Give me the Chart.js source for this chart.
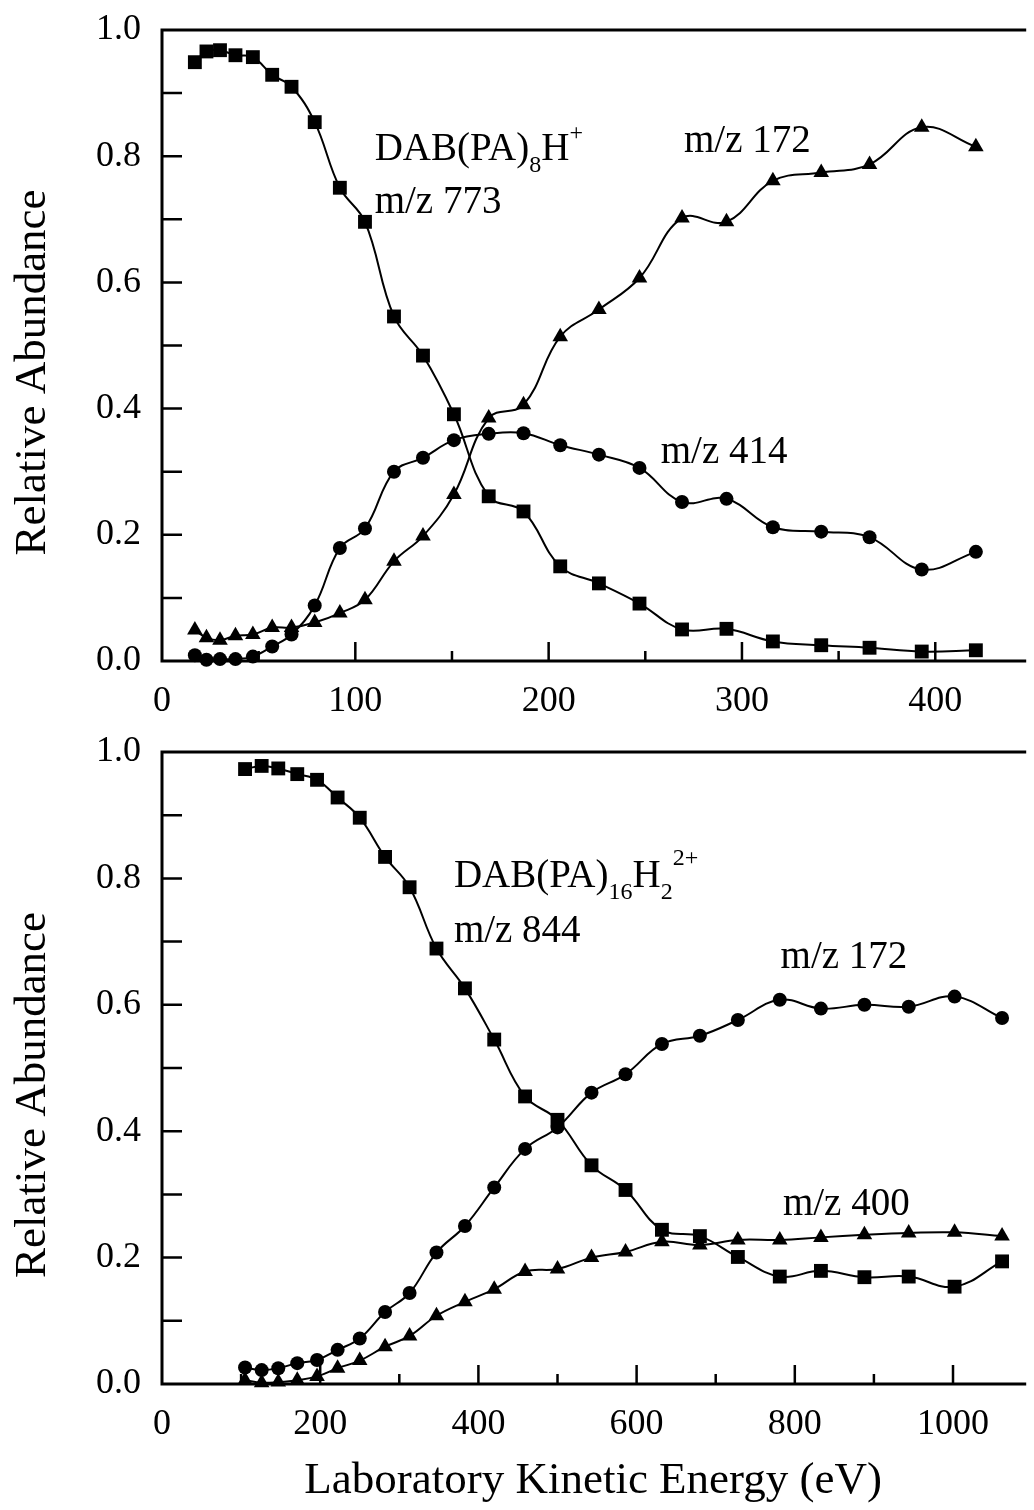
<!DOCTYPE html>
<html>
<head>
<meta charset="utf-8">
<script src="https://cdn.jsdelivr.net/npm/chart.js@4.4.1/dist/chart.umd.min.js"></script>
<style>
  html, body { margin: 0; padding: 0; background: #fff; overflow: hidden; }
  #wrap { position: relative; width: 1034px; height: 1510px; }
  canvas { position: absolute; left: 0; }
  #topChart { top: 0; }
  #bottomChart { top: 720px; }
</style>
</head>
<body>
<div id="wrap">
  <canvas id="topChart" width="1034" height="720"></canvas>
  <canvas id="bottomChart" width="1034" height="790"></canvas>
</div>
<script>
(() => {
    const serif = "'Liberation Serif', 'Times New Roman', serif";

    // upper panel: DAB(PA)8H+ , m/z 773 precursor
    const topEnergy = [17, 23, 30, 38, 47, 57, 67, 79, 92, 105, 120, 135, 151, 169, 187, 206, 226, 247, 269, 292, 316, 341, 366, 393, 421];
    const top773 = [0.949, 0.966, 0.968, 0.960, 0.957, 0.929, 0.910, 0.854, 0.750, 0.696, 0.546, 0.484, 0.391, 0.261, 0.237, 0.150, 0.123, 0.091, 0.050, 0.051, 0.031, 0.025, 0.021, 0.015, 0.017];
    const top414 = [0.009, 0.002, 0.003, 0.003, 0.007, 0.023, 0.042, 0.088, 0.179, 0.210, 0.300, 0.322, 0.350, 0.360, 0.361, 0.342, 0.327, 0.306, 0.252, 0.257, 0.212, 0.205, 0.196, 0.145, 0.173];
    const top172 = [0.049, 0.037, 0.033, 0.040, 0.042, 0.053, 0.053, 0.061, 0.076, 0.097, 0.158, 0.198, 0.264, 0.385, 0.406, 0.514, 0.557, 0.607, 0.702, 0.696, 0.761, 0.774, 0.787, 0.846, 0.815];

    // lower panel: DAB(PA)16H2 2+ , m/z 844 precursor
    const bottomEnergy = [105, 126, 147, 171, 196, 222, 250, 282, 313, 347, 383, 420, 459, 500, 543, 586, 632, 680, 728, 781, 833, 888, 944, 1002, 1062];
    const bottom844 = [0.973, 0.978, 0.974, 0.965, 0.956, 0.928, 0.896, 0.834, 0.786, 0.689, 0.626, 0.545, 0.455, 0.418, 0.346, 0.307, 0.244, 0.234, 0.201, 0.170, 0.179, 0.169, 0.170, 0.154, 0.194];
    const bottom172 = [0.026, 0.022, 0.025, 0.033, 0.038, 0.054, 0.072, 0.114, 0.144, 0.208, 0.250, 0.311, 0.372, 0.406, 0.461, 0.490, 0.538, 0.551, 0.576, 0.608, 0.594, 0.600, 0.597, 0.613, 0.579];
    const bottom400 = [0.006, 0.002, 0.003, 0.006, 0.012, 0.025, 0.037, 0.059, 0.076, 0.108, 0.130, 0.150, 0.178, 0.182, 0.200, 0.209, 0.225, 0.220, 0.228, 0.228, 0.232, 0.236, 0.239, 0.240, 0.234];

    const topMajor = [100, 200, 300, 400];
    const topMinor = [50, 150, 250, 350];
    const bottomMajor = [200, 400, 600, 800, 1000];
    const bottomMinor = [100, 300, 500, 700, 900];
    const yMarks = [0.1, 0.2, 0.3, 0.4, 0.5, 0.6, 0.7, 0.8, 0.9];

    const yTitle = 'Relative Abundance';
    const xTitle = 'Laboratory Kinetic Energy (eV)';

    // frame, inward ticks, peak labels and the y title
    const framePlugin = {
        id: 'frame',
        afterDatasetsDraw(chart, args, opts) {
            const { ctx, chartArea: a, scales: { x, y } } = chart;
            ctx.save();
            ctx.strokeStyle = '#000';
            ctx.lineWidth = 3;
            ctx.beginPath();
            ctx.moveTo(a.right + 2, a.top);
            ctx.lineTo(a.left, a.top);
            ctx.lineTo(a.left, a.bottom);
            ctx.lineTo(a.right + 2, a.bottom);
            ctx.stroke();

            ctx.lineWidth = 2.5;
            ctx.beginPath();
            opts.major.forEach(v => {
                const p = x.getPixelForValue(v);
                ctx.moveTo(p, a.bottom);
                ctx.lineTo(p, a.bottom - 19);
            });
            opts.minor.forEach(v => {
                const p = x.getPixelForValue(v);
                ctx.moveTo(p, a.bottom);
                ctx.lineTo(p, a.bottom - 10);
            });
            yMarks.forEach(v => {
                const p = y.getPixelForValue(v);
                ctx.moveTo(a.left, p);
                ctx.lineTo(a.left + 20, p);
            });
            ctx.stroke();

            ctx.fillStyle = '#000';
            ctx.textAlign = 'left';
            ctx.textBaseline = 'alphabetic';
            opts.notes.forEach(n => {
                let px = x.getPixelForValue(n.x);
                const py = y.getPixelForValue(n.y);
                n.parts.forEach(([text, size, dy]) => {
                    ctx.font = `${size}px ${serif}`;
                    ctx.fillText(text, px, py + dy);
                    px += ctx.measureText(text).width;
                });
            });

            ctx.font = `45px ${serif}`;
            ctx.textAlign = 'center';
            ctx.translate(45, (a.top + a.bottom) / 2 + 27);
            ctx.rotate(-Math.PI / 2);
            ctx.fillText(yTitle, 0, 0);
            ctx.restore();
        }
    };

    const series = (energy, values, style, r) => ({
        data: energy.map((e, i) => ({ x: e, y: values[i] })),
        borderColor: '#000',
        backgroundColor: '#000',
        borderWidth: 2,
        pointStyle: style,
        pointRadius: r,
        pointBorderWidth: 0,
        pointBackgroundColor: '#000',
        tension: 0.4,
        fill: false,
        clip: false
    });

    const tickFont = { family: serif, size: 36 };

    function panel(id, cfg) {
        new Chart(document.getElementById(id), {
            type: 'line',
            data: { datasets: cfg.datasets },
            options: {
                responsive: false,
                animation: false,
                events: [],
                layout: { padding: { top: cfg.padTop, right: 0, bottom: 0, left: 0 } },
                plugins: {
                    legend: { display: false },
                    tooltip: { enabled: false },
                    frame: { major: cfg.major, minor: cfg.minor, notes: cfg.notes }
                },
                scales: {
                    x: {
                        type: 'linear',
                        min: 0,
                        max: cfg.xMax,
                        grid: { display: false },
                        border: { display: false },
                        ticks: { stepSize: cfg.step, includeBounds: false, maxRotation: 0, padding: 11, color: '#000', font: tickFont, callback: v => String(v) },
                        title: cfg.title
                            ? { display: true, text: cfg.title, color: '#000', font: { family: serif, size: 45 }, padding: { top: 0, bottom: 2 } }
                            : { display: false },
                        afterFit: s => { s.height = cfg.xHeight; s.paddingLeft = 0; s.paddingRight = 0; }
                    },
                    y: {
                        min: 0,
                        max: 1,
                        grid: { display: false },
                        border: { display: false },
                        ticks: { stepSize: 0.2, padding: 13, color: '#000', font: tickFont, callback: v => v.toFixed(1) },
                        afterFit: s => { s.width = 162; s.paddingTop = 0; s.paddingBottom = 0; }
                    }
                }
            },
            plugins: [framePlugin]
        });
    }

    panel('topChart', {
        padTop: 30,
        xMax: 446,
        xHeight: 59,
        step: 100,
        major: topMajor,
        minor: topMinor,
        datasets: [
            series(topEnergy, top773, 'rect', 9.8),
            series(topEnergy, top414, 'circle', 7),
            series(topEnergy, top172, 'triangle', 9)
        ],
        notes: [
            { x: 110, y: 0.794, parts: [['DAB(PA)', 39, 0], ['8', 24, 12], ['H', 39, 0], ['+', 24, -20]] },
            { x: 110, y: 0.710, parts: [['m/z 773', 39, 0]] },
            { x: 270, y: 0.807, parts: [['m/z 172', 39, 0]] },
            { x: 258, y: 0.314, parts: [['m/z 414', 39, 0]] }
        ]
    });

    panel('bottomChart', {
        padTop: 32,
        xMax: 1090,
        xHeight: 126,
        step: 200,
        major: bottomMajor,
        minor: bottomMinor,
        title: xTitle,
        datasets: [
            series(bottomEnergy, bottom844, 'rect', 9.8),
            series(bottomEnergy, bottom172, 'circle', 7),
            series(bottomEnergy, bottom400, 'triangle', 9)
        ],
        notes: [
            { x: 369, y: 0.786, parts: [['DAB(PA)', 39, 0], ['16', 24, 12], ['H', 39, 0], ['2', 24, 12], ['2+', 24, -22]] },
            { x: 369, y: 0.699, parts: [['m/z 844', 39, 0]] },
            { x: 782, y: 0.658, parts: [['m/z 172', 39, 0]] },
            { x: 785, y: 0.267, parts: [['m/z 400', 39, 0]] }
        ]
    });
})();
</script>
</body>
</html>
